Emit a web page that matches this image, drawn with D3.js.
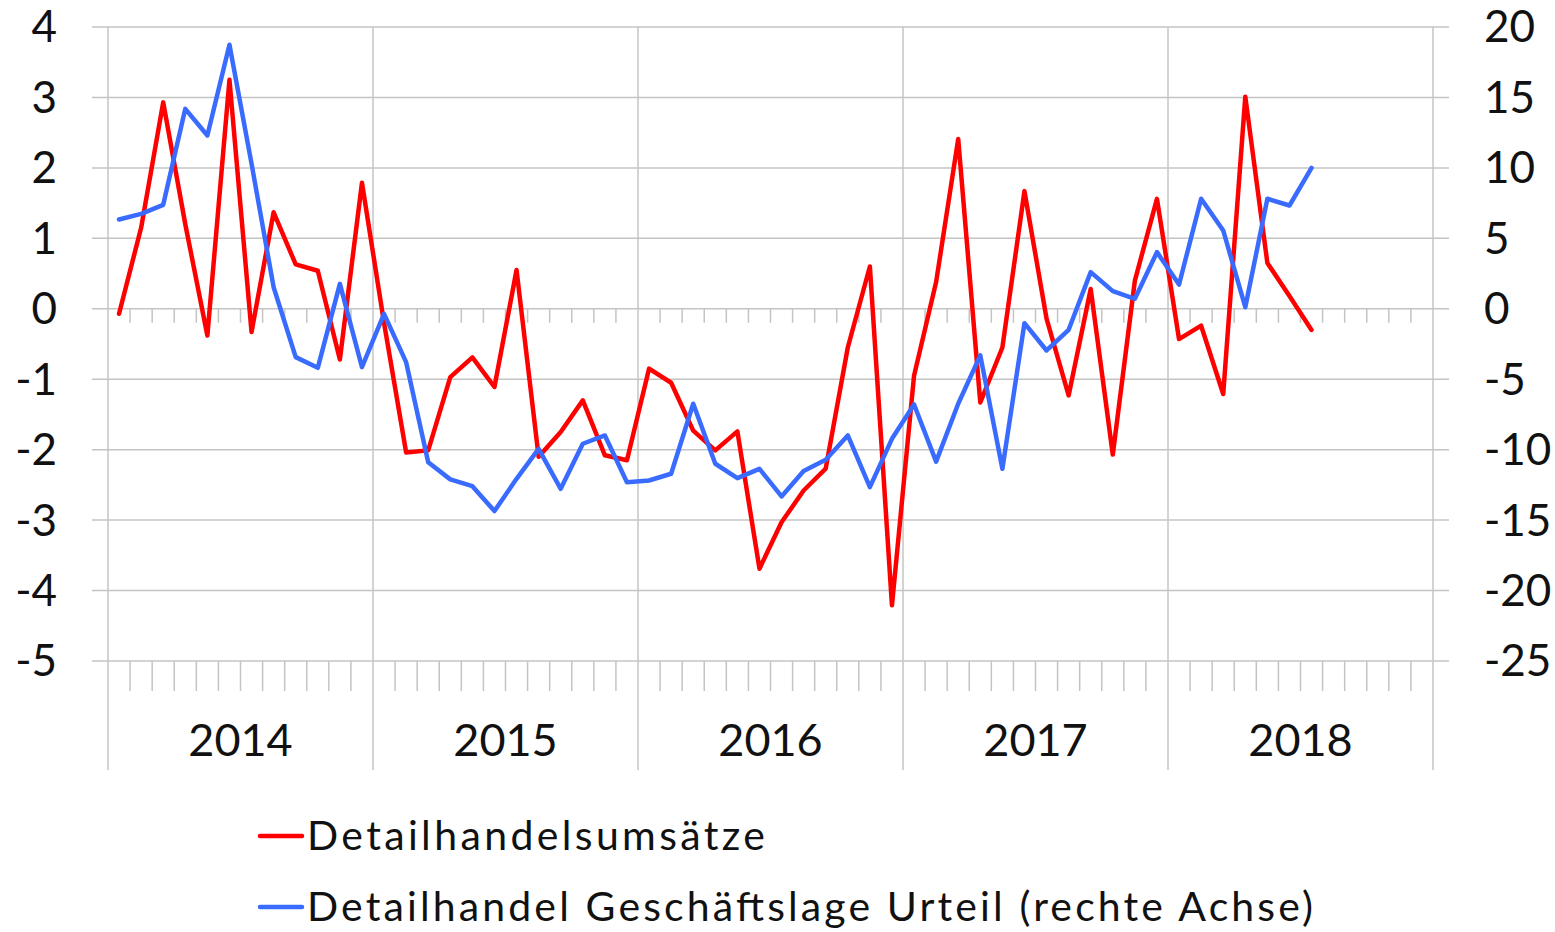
<!DOCTYPE html>
<html>
<head>
<meta charset="utf-8">
<script src="https://cdn.jsdelivr.net/npm/d3@7"></script>
<style>
  html, body { margin: 0; padding: 0; background: #fff; }
  text { font-family: Lato, "Open Sans", sans-serif; fill: #111; }
</style>
</head>
<body>
<div id="chart"></div>
<script>
// monthly values, Jan 2014 .. Jul 2018
const years = ["2014", "2015", "2016", "2017", "2018"];
const umsaetze = [
  -0.07, 1.15, 2.93, 1.2, -0.38, 3.25, -0.33, 1.37, 0.63, 0.54, -0.72, 1.79,
  -0.2, -2.04, -2.01, -0.97, -0.69, -1.11, 0.55, -2.1, -1.75, -1.3, -2.08, -2.15,
  -0.85, -1.05, -1.73, -2.01, -1.74, -3.69, -3.03, -2.58, -2.27, -0.55, 0.6, -4.21,
  -0.95, 0.38, 2.41, -1.33, -0.55, 1.67, -0.14, -1.23, 0.28, -2.07, 0.4, 1.56,
  -0.43, -0.24, -1.21, 3.01, 0.65, 0.18, -0.3
];
const geschaeftslage = [
  6.34, 6.74, 7.38, 14.19, 12.3, 18.74, 10.3, 1.53, -3.43, -4.19, 1.77, -4.14,
  -0.36, -3.79, -10.89, -12.11, -12.59, -14.36, -12.07, -9.94, -12.78, -9.58, -8.99, -12.31,
  -12.19, -11.71, -6.74, -11.0, -12.02, -11.36, -13.32, -11.52, -10.72, -8.99, -12.66, -9.23,
  -6.79, -10.85, -6.74, -3.31, -11.36, -1.02, -2.96, -1.49, 2.6, 1.25, 0.71, 4.02,
  1.72, 7.81, 5.56, 0.11, 7.81, 7.33, 10.0
];
const leftTicks = [4, 3, 2, 1, 0, -1, -2, -3, -4, -5];
const rightTicks = [20, 15, 10, 5, 0, -5, -10, -15, -20, -25];
const seriesNames = ["Detailhandelsumsätze", "Detailhandel Geschäftslage Urteil (rechte Achse)"];
const colors = ["#ff0000", "#3a6bff"];

const width = 1555, height = 932;
const plotL = 108, plotR = 1433, plotT = 27, plotB = 661;
const months = years.length * 12;

const svg = d3.select("#chart").append("svg")
  .attr("width", width)
  .attr("height", height);

const x = d3.scaleLinear().domain([0, months]).range([plotL, plotR]);
const yL = d3.scaleLinear().domain([-5, 4]).range([plotB, plotT]);
const yR = d3.scaleLinear().domain([-25, 20]).range([plotB, plotT]);

const grid = "#c4c4c4";

// horizontal gridlines
svg.append("g").selectAll("line")
  .data(leftTicks)
  .enter().append("line")
  .attr("x1", plotL - 16).attr("x2", plotR + 16)
  .attr("y1", d => yL(d)).attr("y2", d => yL(d))
  .attr("stroke", grid).attr("stroke-width", 1.5);

// vertical year lines
svg.append("g").selectAll("line")
  .data(d3.range(years.length + 1))
  .enter().append("line")
  .attr("x1", d => x(d * 12)).attr("x2", d => x(d * 12))
  .attr("y1", plotT).attr("y2", 770)
  .attr("stroke", grid).attr("stroke-width", 1.5);

// month ticks (on zero line and at the bottom)
const monthTicks = d3.range(1, months).filter(m => m % 12 !== 0);
svg.append("g").selectAll("line")
  .data(monthTicks)
  .enter().append("line")
  .attr("x1", d => x(d)).attr("x2", d => x(d))
  .attr("y1", yL(0)).attr("y2", yL(0) + 14)
  .attr("stroke", grid).attr("stroke-width", 1.5);
svg.append("g").selectAll("line")
  .data(monthTicks)
  .enter().append("line")
  .attr("x1", d => x(d)).attr("x2", d => x(d))
  .attr("y1", plotB).attr("y2", plotB + 30)
  .attr("stroke", grid).attr("stroke-width", 1.5);

// axis labels
svg.append("g").selectAll("text")
  .data(leftTicks)
  .enter().append("text")
  .attr("x", 57).attr("y", d => yL(d))
  .attr("dy", "0.35em")
  .attr("text-anchor", "end")
  .style("font-size", "44px")
  .text(d => d);

svg.append("g").selectAll("text")
  .data(rightTicks)
  .enter().append("text")
  .attr("x", 1484).attr("y", d => yR(d))
  .attr("dy", "0.35em")
  .attr("text-anchor", "start")
  .style("font-size", "44px")
  .text(d => d);

svg.append("g").selectAll("text")
  .data(years)
  .enter().append("text")
  .attr("x", (d, i) => x(i * 12 + 6)).attr("y", 740)
  .attr("dy", "0.35em")
  .attr("text-anchor", "middle")
  .style("font-size", "45px")
  .text(d => d);

// lines
const lineL = d3.line().x((d, i) => x(i + 0.5)).y(d => yL(d));
const lineR = d3.line().x((d, i) => x(i + 0.5)).y(d => yR(d));

svg.append("path")
  .datum(umsaetze)
  .attr("d", lineL)
  .attr("fill", "none")
  .attr("stroke", colors[0])
  .attr("stroke-width", 4.5)
  .attr("stroke-linejoin", "round")
  .attr("stroke-linecap", "round");

svg.append("path")
  .datum(geschaeftslage)
  .attr("d", lineR)
  .attr("fill", "none")
  .attr("stroke", colors[1])
  .attr("stroke-width", 4.5)
  .attr("stroke-linejoin", "round")
  .attr("stroke-linecap", "round");

// legend
const legendWidths = [458, 1006];
const legend = svg.append("g").selectAll("g")
  .data(seriesNames)
  .enter().append("g")
  .attr("transform", (d, i) => "translate(260," + (836 + i * 71) + ")");

legend.append("line")
  .attr("x1", 0).attr("x2", 42)
  .attr("stroke", (d, i) => colors[i])
  .attr("stroke-width", 4.5)
  .attr("stroke-linecap", "round");

legend.append("text")
  .attr("x", 47).attr("dy", "0.35em")
  .attr("textLength", (d, i) => legendWidths[i])
  .attr("lengthAdjust", "spacing")
  .style("font-size", "41px")
  .text(d => d);
</script>
</body>
</html>
